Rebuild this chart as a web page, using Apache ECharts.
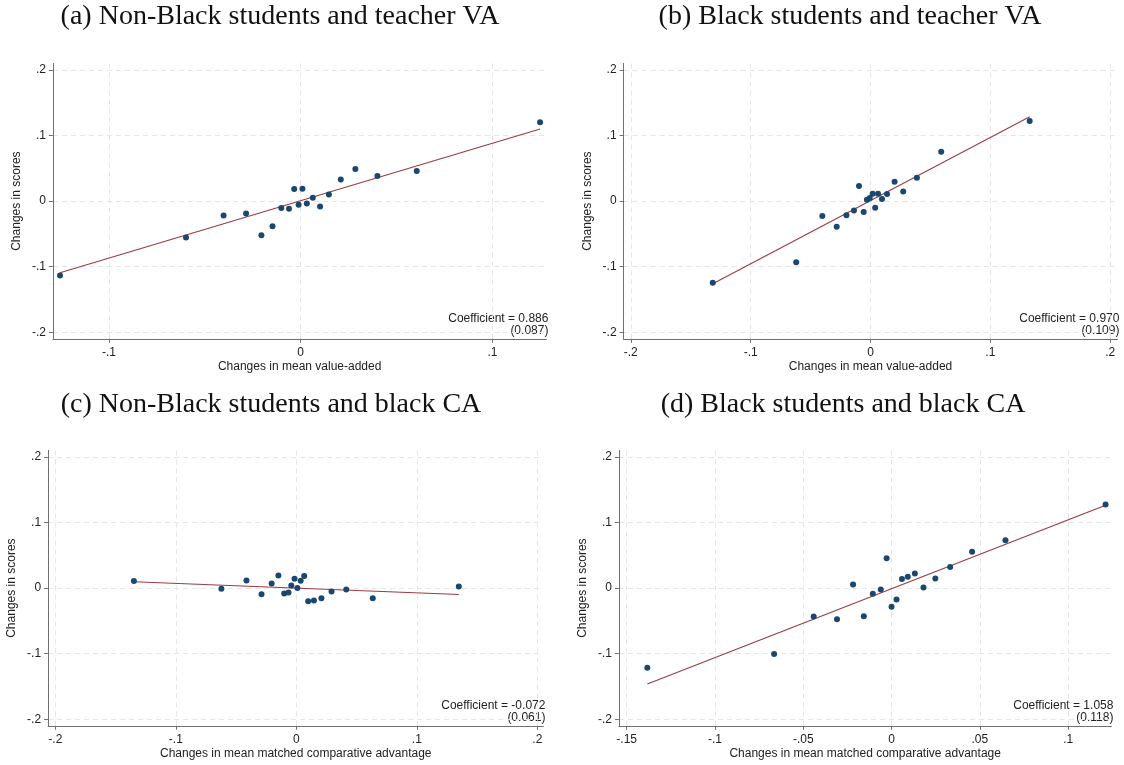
<!DOCTYPE html>
<html><head><meta charset="utf-8">
<script src="https://cdn.jsdelivr.net/npm/echarts@6/dist/echarts.min.js"></script>
<style>html,body{margin:0;padding:0;background:#fff}#c{width:1124px;height:765px}</style>
</head><body><div id="c"></div>
<script>
// ---- data ----
const titles = ['(a) Non-Black students and teacher VA','(b) Black students and teacher VA','(c) Non-Black students and black CA','(d) Black students and black CA'];
const xNames = ['Changes in mean value-added','Changes in mean value-added','Changes in mean matched comparative advantage','Changes in mean matched comparative advantage'];
const yName = 'Changes in scores';
const coefs = ['0.886','0.970','-0.072','1.058'];
const ses = ['(0.087)','(0.109)','(0.061)','(0.118)'];

const aX = [-0.1255,-0.0598,-0.0402,-0.0285,-0.0205,-0.0147,-0.0101,-0.0061,-0.0034,-0.0011,0.0009,0.0032,0.0063,0.0101,0.0147,0.0209,0.0285,0.0400,0.0605,0.1248];
const aY = [-0.1135,-0.0555,-0.0219,-0.0188,-0.0519,-0.0382,-0.0107,-0.0117,0.0183,-0.0056,0.0188,-0.0036,0.0051,-0.0081,0.0102,0.0331,0.0489,0.0382,0.0458,0.1201];
const aFitX = [-0.1255,0.1248];
const aFitY = [-0.1094,0.1099];

const bX = [-0.1316,-0.0620,-0.0402,-0.0282,-0.0201,-0.0138,-0.0096,-0.0057,-0.0030,-0.0006,0.0018,0.0039,0.0063,0.0096,0.0138,0.0201,0.0273,0.0387,0.0590,0.1328];
const bY = [-0.1247,-0.0931,-0.0229,-0.0392,-0.0214,-0.0142,0.0229,-0.0168,0.0020,0.0046,0.0112,-0.0102,0.0112,0.0031,0.0107,0.0295,0.0148,0.0356,0.0753,0.1221];
const bFitX = [-0.1316,0.1328];
const bFitY = [-0.1262,0.1285];

const cX = [-0.1348,-0.0622,-0.0414,-0.0289,-0.0205,-0.0149,-0.0101,-0.0065,-0.0042,-0.0015,0.0009,0.0036,0.0065,0.0098,0.0146,0.0208,0.0292,0.0414,0.0634,0.1348];
const cY = [0.0107,-0.0010,0.0117,-0.0092,0.0071,0.0194,-0.0082,-0.0066,0.0041,0.0143,0.0000,0.0112,0.0184,-0.0199,-0.0189,-0.0153,-0.0051,-0.0020,-0.0153,0.0026];
const cFitX = [-0.1348,0.1348];
const cFitY = [0.0097,-0.0097];

const dX = [-0.1383,-0.0665,-0.0441,-0.0309,-0.0218,-0.0157,-0.0106,-0.0061,-0.0028,0.0000,0.0028,0.0059,0.0092,0.0132,0.0181,0.0248,0.0332,0.0456,0.0645,0.1212];
const dY = [-0.1214,-0.1005,-0.0434,-0.0474,0.0056,-0.0429,-0.0087,-0.0020,0.0454,-0.0286,-0.0173,0.0138,0.0173,0.0224,0.0010,0.0148,0.0321,0.0556,0.0730,0.1276];
const dFitX = [-0.1383,0.1212];
const dFitY = [-0.1464,0.1265];

const yTicks = [-0.2,-0.1,0,0.1,0.2];
const aXTicks = [-0.1,0,0.1];
const bXTicks = [-0.2,-0.1,0,0.1,0.2];
const cXTicks = [-0.2,-0.1,0,0.1,0.2];
const dXTicks = [-0.15,-0.1,-0.05,0,0.05,0.1];

const xRanges = [[-0.1292,0.1281],[-0.206,0.206],[-0.206,0.205],[-0.1544,0.1245]];
const yRange = [-0.21,0.21];

// ---- layout ----
const grids = [
  {left:52.9, top:63.4, width:493.5, height:275.4},
  {left:623.6, top:63.4, width:493.8, height:275.4},
  {left:48.1, top:450.4, width:495.3, height:275.4},
  {left:618.9, top:450.4, width:492.5, height:275.4}
];
const titlePos = [[280,17],[850,17],[271,405],[843,405]];

const pts = [[aX,aY],[bX,bY],[cX,cY],[dX,dY]];
const fits = [[aFitX,aFitY],[bFitX,bFitY],[cFitX,cFitY],[dFitX,dFitY]];
const xTicks = [aXTicks,bXTicks,cXTicks,dXTicks];

const fmt = v => { const s = String(+(+v).toFixed(3)); return s.replace(/^(-?)0\./,'$1.'); };
const textCol = '#222';
const axisCol = '#707070';
const gridCol = '#e6e6e6';
const sans = 'Liberation Sans, Arial, sans-serif';

const xAxis = [], yAxis = [], series = [], graphic = [];
for (let i=0;i<4;i++){
  xAxis.push({
    type:'value', gridIndex:i, min:xRanges[i][0], max:xRanges[i][1],
    name:xNames[i], nameLocation:'middle', nameGap:22,
    nameTextStyle:{color:textCol, fontSize:12, fontFamily:sans},
    axisLine:{show:true, onZero:false, lineStyle:{color:axisCol, width:1}},
    axisTick:{show:true, length:4, customValues:xTicks[i], lineStyle:{color:axisCol}},
    axisLabel:{customValues:xTicks[i], formatter:fmt, color:textCol, fontSize:12, fontFamily:sans, margin:8},
    splitLine:{show:true, lineStyle:{color:gridCol, type:[5,4], width:1}}
  });
  yAxis.push({
    type:'value', gridIndex:i, min:yRange[0], max:yRange[1],
    name:yName, nameLocation:'middle', nameGap:30,
    nameTextStyle:{color:textCol, fontSize:12, fontFamily:sans},
    axisLine:{show:true, onZero:false, lineStyle:{color:axisCol, width:1}},
    axisTick:{show:true, length:4, customValues:yTicks, lineStyle:{color:axisCol}},
    axisLabel:{customValues:yTicks, formatter:fmt, color:textCol, fontSize:12, fontFamily:sans, margin:7},
    splitLine:{show:true, lineStyle:{color:gridCol, type:[5,4], width:1}}
  });
  series.push({
    type:'line', xAxisIndex:i, yAxisIndex:i, symbol:'none', silent:true,
    lineStyle:{color:'#9a3b3f', width:1.1}, z:2,
    data: fits[i][0].map((x,k)=>[x, fits[i][1][k]])
  });
  series.push({
    type:'scatter', xAxisIndex:i, yAxisIndex:i, symbolSize:6, clip:false, z:3,
    itemStyle:{color:'#1a476f', opacity:1},
    data: pts[i][0].map((x,k)=>[x, pts[i][1][k]])
  });
  graphic.push({
    type:'text', x:titlePos[i][0], y:titlePos[i][1],
    style:{text:titles[i], fill:'#111', font:'28px "Liberation Serif", "Times New Roman", serif', align:'center', verticalAlign:'middle'}
  });
  const g = grids[i];
  graphic.push({
    type:'text', x:g.left+g.width+2, y:g.top+g.height-26,
    style:{text:'Coefficient = '+coefs[i]+'\n'+ses[i], fill:textCol, font:'12px '+sans, align:'right', verticalAlign:'top', lineHeight:12}
  });
}

const chart = echarts.init(document.getElementById('c'), null, {renderer:'canvas'});
chart.setOption({
  backgroundColor:'#fff',
  animation:false,
  grid: grids.map(g=>Object.assign({containLabel:false}, g)),
  xAxis, yAxis, series, graphic
});
</script>
</body></html>
